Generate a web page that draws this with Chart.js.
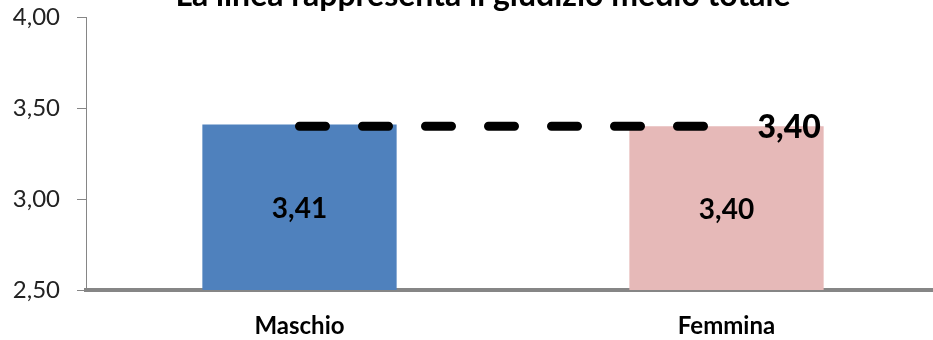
<!DOCTYPE html>
<html>
<head>
<meta charset="utf-8">
<script src="https://cdn.jsdelivr.net/npm/chart.js@4/dist/chart.umd.min.js"></script>
<style>
  html, body { margin: 0; padding: 0; background: #fff; overflow: hidden; }
  #wrap { position: relative; width: 933px; height: 340px; overflow: hidden; }
  #wrap canvas { position: absolute; left: 0; top: 0; }
</style>
</head>
<body>
<div id="wrap"><canvas id="c" width="945" height="340" style="width:945px;height:340px"></canvas></div>
<script>
// Giudizio medio per genere, con la media complessiva come linea tratteggiata
const categories = ['Maschio', 'Femmina'];
const meanByGender = [3.41, 3.40];
const overallMean = [3.40, 3.40];
const yTicks = [2.5, 3.0, 3.5, 4.0];
const titleText = 'La linea rappresenta il giudizio medio totale';

const fmt = v => v.toFixed(2).replace('.', ',');
const FONT = 'Lato';

// Etichette dei valori e titolo
const valueLabels = {
  id: 'valueLabels',
  afterDatasetsDraw(chart) {
    const ctx = chart.ctx;
    const xs = chart.scales.x;
    const ys = chart.scales.y;
    const base = ys.getPixelForValue(ys.min);
    ctx.save();
    ctx.fillStyle = '#000';

    // valori dentro le barre
    ctx.textAlign = 'center';
    ctx.textBaseline = 'middle';
    ctx.font = 'bold 28px ' + FONT;
    meanByGender.forEach((v, i) => {
      const x = xs.getPixelForValue(i);
      const top = ys.getPixelForValue(v);
      ctx.fillText(fmt(v), x, (top + base) / 2 + 2);
    });

    // valore della media totale a destra della linea
    const lastIdx = overallMean.length - 1;
    const lx = xs.getPixelForValue(lastIdx);
    const ly = ys.getPixelForValue(overallMean[lastIdx]);
    ctx.textAlign = 'left';
    ctx.font = '900 32px ' + FONT;
    ctx.fillText(fmt(overallMean[lastIdx]), lx + 31, ly + 1);

    // titolo
    ctx.textAlign = 'center';
    ctx.textBaseline = 'alphabetic';
    ctx.font = 'bold 32px ' + FONT;
    ctx.fillText(titleText, 483, 6);
    ctx.restore();
  }
};

new Chart(document.getElementById('c'), {
  data: {
    labels: categories,
    datasets: [
      {
        type: 'line',
        data: overallMean,
        borderColor: '#000',
        borderWidth: 9,
        borderDash: [26, 37],
        borderCapStyle: 'round',
        pointRadius: 0,
        fill: false,
        order: 0
      },
      {
        type: 'bar',
        data: meanByGender,
        backgroundColor: ['#4F81BD', '#E6B9B8'],
        categoryPercentage: 1,
        barPercentage: 0.455,
        order: 1
      }
    ]
  },
  options: {
    responsive: false,
    animation: false,
    layout: { autoPadding: false, padding: { top: 17, right: 5, bottom: 0, left: 0 } },
    plugins: { legend: { display: false }, tooltip: { enabled: false }, title: { display: false } },
    scales: {
      x: {
        offset: true,
        grid: { display: false, drawTicks: false },
        border: { color: '#868686', width: 4 },
        ticks: {
          color: '#000',
          padding: 22,
          font: { family: FONT, weight: 'bold', size: 24 }
        },
        afterFit: s => { s.height = 50; s.paddingLeft = 0; s.paddingRight = 0; }
      },
      y: {
        min: 2.5,
        max: 4,
        afterBuildTicks: s => { s.ticks = yTicks.map(v => ({ value: v })); },
        grid: { drawOnChartArea: false, tickLength: 9, color: '#868686' },
        border: { color: '#868686', width: 1 },
        ticks: {
          color: '#222',
          padding: 17,
          callback: v => fmt(v),
          font: { family: FONT, size: 24 }
        },
        afterFit: s => { s.width = 86; s.paddingTop = 0; s.paddingBottom = 0; }
      }
    }
  },
  plugins: [valueLabels]
});
</script>
</body>
</html>
